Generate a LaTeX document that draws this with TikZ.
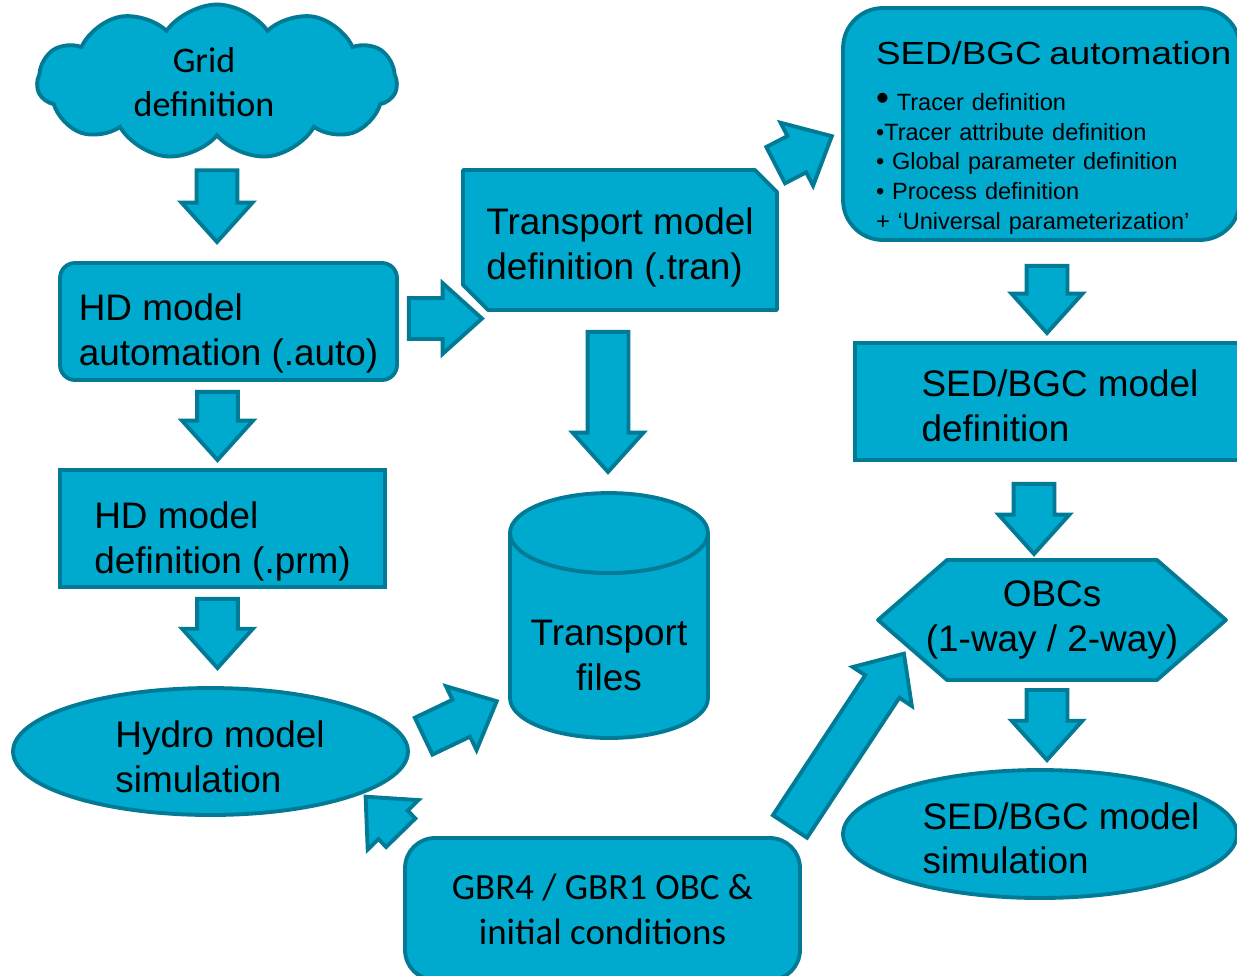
\documentclass[tikz,border=0pt]{standalone}
\usepackage{fontspec}
\setmainfont{Liberation Sans}
\newfontfamily\calibri{Carlito}
\newfontfamily\widesans[FakeStretch=1.15]{Liberation Sans}
\usetikzlibrary{arrows.meta, positioning, shapes.geometric, shapes.symbols, shapes.arrows, calc, backgrounds}

\definecolor{boxfill}{RGB}{0,169,206}
\definecolor{boxline}{RGB}{0,122,149}

\newcommand\bigtext{\fontsize{21}{25.5}\selectfont}
\newcommand\listtext{\fontsize{13.4}{17}\selectfont}
\newcommand\calibritext{\calibri\fontsize{21}{25.5}\selectfont}
% invisible strut that pushes a text block down
\newcommand\textdrop[1]{\rule{0pt}{#1}}

% fat block arrow from one point to another
\newcommand\fatarrow[2]{%
  \path let \p1=#1, \p2=#2,
    \n1={atan2(\y2-\y1,\x2-\x1)}, \n2={veclen(\x2-\x1,\y2-\y1)} in
    node[blockarrow, rotate=\n1, minimum height=\n2] at (\p1) {};}

\tikzset{
  box/.style={draw=boxline, fill=boxfill, line width=2.2pt, text=black, font=\bigtext, inner sep=0pt, align=left},
  blank/.style={inner sep=0pt, outer sep=0pt, font=\bigtext, align=left},
  oval/.style={box, ellipse, inner xsep=-0.8cm, inner ysep=-0.5cm},
  shapeline/.style={draw=boxline, fill=boxfill, line width=2.2pt, line join=round},
  blockarrow/.style={single arrow, draw=boxline, fill=boxfill, line width=2.2pt, inner xsep=0pt, inner ysep=0.37cm,
    minimum width=1.34cm, single arrow head extend=0.3cm, single arrow tip angle=84, anchor=tail},
}

\begin{document}
\begin{tikzpicture}[x=0.02cm, y=-0.02cm]
\useasboundingbox (0,0) rectangle (1237,975);

% left column
\node[box, cloud, cloud puffs=11, cloud puff arc=110, aspect=2.3, cloud ignores aspect,
  minimum width=7.2cm, minimum height=3.1cm, align=center, font=\calibri\fontsize{20.5}{25}\selectfont]
  (grid) at (217,82) {Grid\rule{0.52cm}{0pt}\\definition\rule{0.52cm}{0pt}};
\node[box, rounded corners=0.3cm, minimum width=6.74cm, minimum height=2.34cm]
  (hdauto) at (228.5,321.5) {\textdrop{29pt}HD model\\automation (.auto)};
\node[box, minimum width=6.5cm, minimum height=2.34cm]
  (hddef) at (222.5,528.5) {\textdrop{30pt}HD model\\definition (.prm)};
\node[oval, minimum width=7.9cm, minimum height=2.54cm]
  (hydro) at (210.5,751.5) {\hspace*{0.38cm}\textdrop{21pt}Hydro model\\\hspace*{0.38cm}simulation};

% middle column
\node[blank, minimum width=6.28cm, minimum height=2.8cm] (trandef) at (620,240) {\textdrop{23.3pt}Transport model\\definition (.tran)};
\node[blank, align=center, minimum width=3.96cm, minimum height=3.3cm] (tfiles) at (609,655.5) {Transport\\files};
\node[box, rounded corners=0.6cm, minimum width=7.9cm, minimum height=2.84cm, align=center, font=\calibritext]
  (gbr) at (602.5,909) {GBR4 / GBR1 OBC \&\\initial conditions};

% right column
\node[box, rounded corners=0.8cm, minimum width=7.94cm, minimum height=4.64cm, text width=6.62cm, font=\listtext]
  (sedauto) at (1041.5,124)
  {\mbox{\widesans\fontsize{18.2}{17}\selectfont\textdrop{29pt}SED/BGC automation}\\[9pt]
   {\fontsize{21}{17}\selectfont •} Tracer definition\\
   •Tracer attribute definition\\
   • Global parameter definition\\
   • Process definition\\
   + ‘Universal parameterization’};
\node[box, minimum width=8.2cm, minimum height=2.34cm]
  (seddef) at (1060,401.5) {\textdrop{20pt}SED/BGC model\\definition};
\node[blank, align=center, minimum width=6.96cm, minimum height=2.4cm] (obcs) at (1052,620) {OBCs\\(1-way / 2-way)};
\node[oval, minimum width=7.88cm, minimum height=2.56cm]
  (sedsim) at (1040,834) {\hspace*{0.84cm}\textdrop{20pt}SED/BGC model\\\hspace*{0.84cm}simulation};

% shapes drawn by hand behind their texts
\begin{scope}[on background layer]
  \filldraw[shapeline] (trandef.north west) -- ($(trandef.north east)+(-22,0)$) -- ($(trandef.north east)+(0,22)$)
    -- (trandef.south east) -- ($(trandef.south west)+(25,0)$) -- ($(trandef.south west)+(0,-25)$) -- cycle;
  \filldraw[shapeline] ($(tfiles.north west)+(0,-40)$) -- ($(tfiles.south west)+(0,-40)$)
    arc[start angle=180, end angle=360, x radius=1.98cm, y radius=0.8cm]
    -- ($(tfiles.north east)+(0,-40)$)
    arc[start angle=0, end angle=180, x radius=1.98cm, y radius=0.8cm] -- cycle;
  \draw[shapeline, fill=none] ($(tfiles.north west)+(0,-40)$)
    arc[start angle=180, end angle=360, x radius=1.98cm, y radius=0.8cm];
  \filldraw[shapeline] (obcs.west) -- ($(obcs.north west)+(69,0)$) -- ($(obcs.north east)+(-69,0)$)
    -- (obcs.east) -- ($(obcs.south east)+(-69,0)$) -- ($(obcs.south west)+(69,0)$) -- cycle;
\end{scope}

% block arrows
\fatarrow{($(grid.south)+(0,30)$)}{($(grid.south |- hdauto.north)+(0,-21)$)}
\fatarrow{($(hdauto.east)+(8,-3)$)}{($(trandef.south west |- hdauto.east)+(17,-3)$)}
\fatarrow{($(hdauto.south)+(-11,8)$)}{($(hddef.north)+(-5,-10)$)}
\fatarrow{($(hddef.south)+(-5,8)$)}{($(hydro.north)+(7,-20)$)}
\fatarrow{($(hydro.east)+(12,-14.5)$)}{($(tfiles.west)+(-15,46.5)$)}
\fatarrow{($(gbr.north west)+(-1,-2)$)}{($(hydro.east)+(-43,46.5)$)}
\fatarrow{($(trandef.south)+(-12,20)$)}{($(tfiles.north)+(-1,-103)$)}
\fatarrow{($(trandef.north east)+(-3,-4)$)}{($(sedauto.west)+(-11,13)$)}
\fatarrow{($(sedauto.south)+(5.5,22)$)}{($(seddef.north)+(-13,-10)$)}
\fatarrow{($(seddef.south)+(-26,20)$)}{($(obcs.north)+(-18,-8)$)}
\fatarrow{($(obcs.south)+(-5,8)$)}{($(sedsim.north)+(7,-10)$)}
\fatarrow{($(gbr.north east)+(-13,-8)$)}{($(obcs.west)+(25,35)$)}

\end{tikzpicture}
\end{document}
